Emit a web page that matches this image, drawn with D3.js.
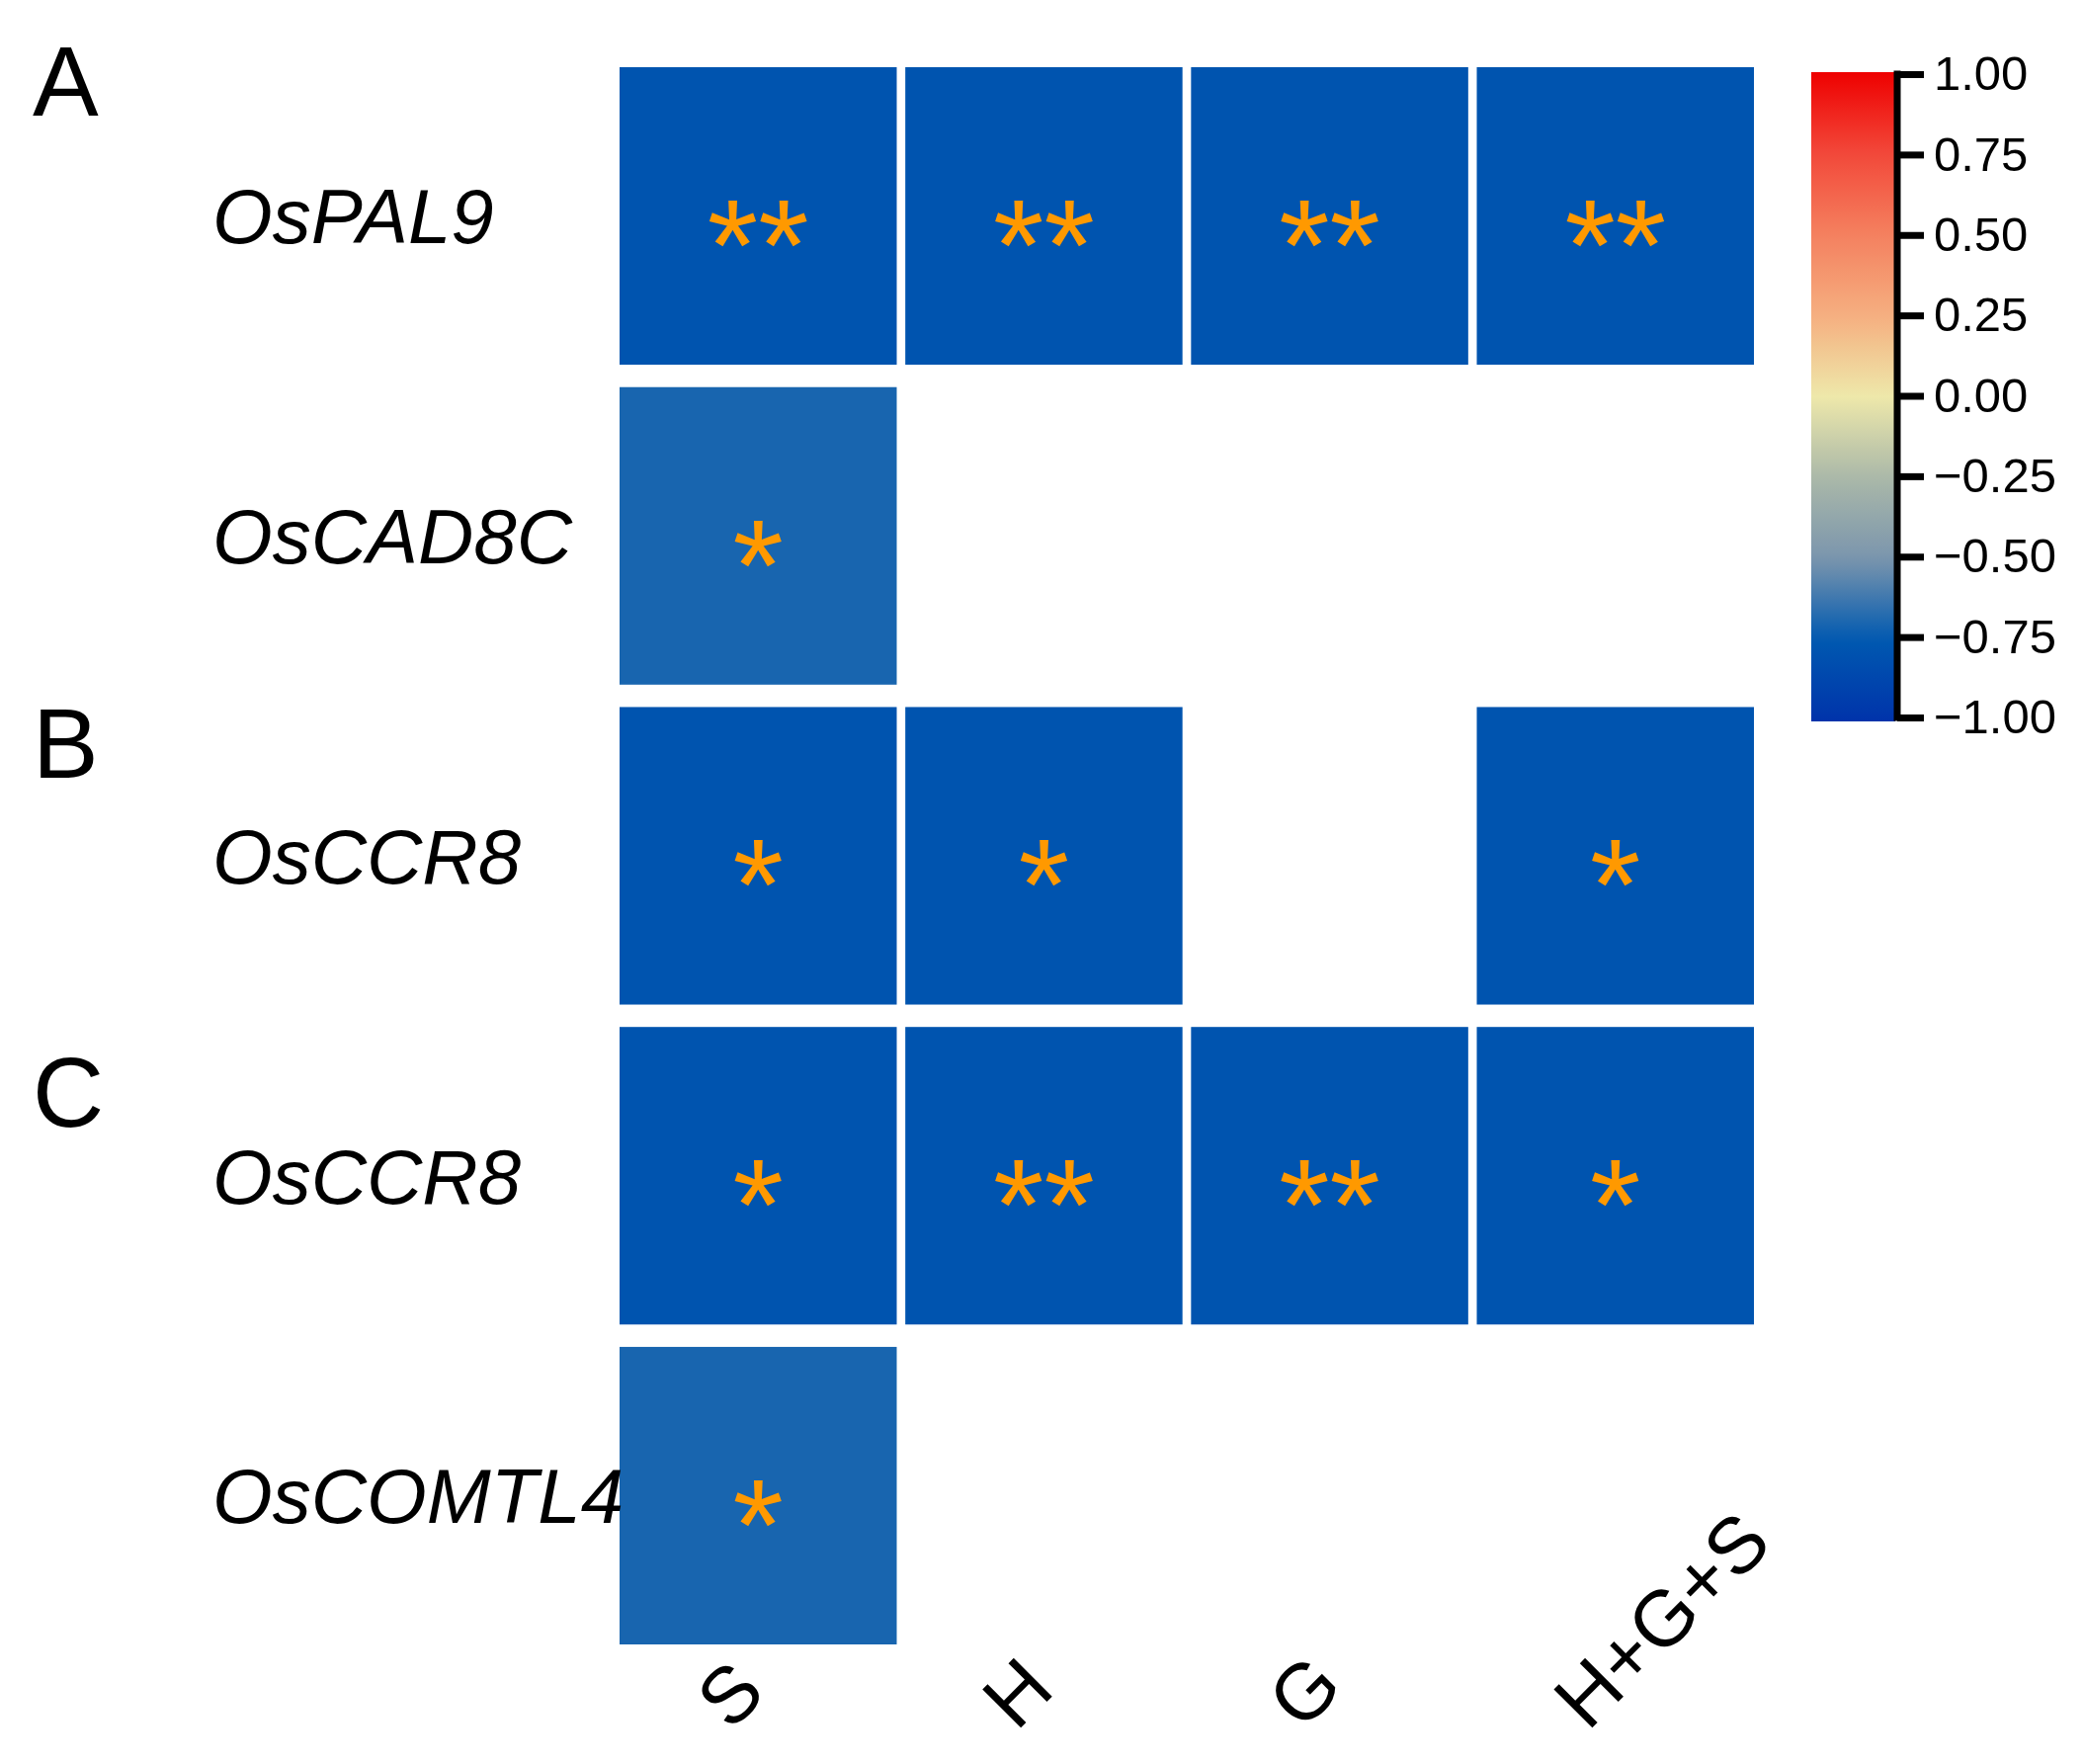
<!DOCTYPE html>
<html>
<head>
<meta charset="utf-8">
<script src="https://cdn.jsdelivr.net/npm/d3@7"></script>
<style>
  html, body { margin: 0; padding: 0; background: #ffffff; }
  svg { display: block; }
  text { font-family: "Liberation Sans", Arial, Helvetica, sans-serif; }
</style>
</head>
<body>
<div id="chart"></div>
<script>
// ---------- data ----------
const genes = ["OsPAL9", "OsCAD8C", "OsCCR8", "OsCCR8", "OsCOMTL4"];
const traits = ["S", "H", "G", "H+G+S"];

// correlation coefficients (null = not shown)
const rPAL9   = [-0.78, -0.78, -0.78, -0.78];
const rCAD8C  = [-0.70, null, null, null];
const rCCR8B  = [-0.78, -0.78, null, -0.78];
const rCCR8C  = [-0.78, -0.78, -0.78, -0.78];
const rCOMTL4 = [-0.70, null, null, null];

// significance marks
const sPAL9   = ["**", "**", "**", "**"];
const sCAD8C  = ["*", "", "", ""];
const sCCR8B  = ["*", "*", "", "*"];
const sCCR8C  = ["*", "**", "**", "*"];
const sCOMTL4 = ["*", "", "", ""];

const panelLetters = ["A", "B", "C"];

const colorDomain = [-1, -0.75, -0.5, -0.25, 0, 0.25, 0.5, 0.75, 1];
const colorRange  = ["#0033AA", "#0059B0", "#7A95AD", "#AAB8A9", "#EEE8AA",
                     "#F5AF80", "#F4805F", "#F2483A", "#EE0000"];
const legendTicks = [-1, -0.75, -0.5, -0.25, 0, 0.25, 0.5, 0.75, 1];

// ---------- build ----------
const rValues = [rPAL9, rCAD8C, rCCR8B, rCCR8C, rCOMTL4];
const sigMarks = [sPAL9, sCAD8C, sCCR8B, sCCR8C, sCOMTL4];
const cells = [];
rValues.forEach((row, i) => row.forEach((v, j) => {
  if (v !== null) cells.push({ row: i, col: traits[j], value: v, sig: sigMarks[i][j] });
}));

const W = 2108, H = 1785;
const svg = d3.select("#chart").append("svg")
  .attr("width", W).attr("height", H)
  .attr("viewBox", `0 0 ${W} ${H}`);
svg.append("rect").attr("width", W).attr("height", H).attr("fill", "#ffffff");

const x = d3.scaleBand().domain(traits).range([627, 1775]).paddingInner(0.03);
const y = d3.scaleBand().domain(d3.range(genes.length)).range([68, 1664]).paddingInner(0.07);
const color = d3.scaleLinear().domain(colorDomain).range(colorRange).interpolate(d3.interpolateRgb);

// cells
svg.append("g").selectAll("rect").data(cells).join("rect")
  .attr("x", d => x(d.col))
  .attr("y", d => y(d.row))
  .attr("width", x.bandwidth())
  .attr("height", y.bandwidth())
  .attr("fill", d => color(d.value));

// significance stars
const starSize = 132;
svg.append("g").selectAll("text").data(cells.filter(d => d.sig)).join("text")
  .attr("x", d => x(d.col) + x.bandwidth() / 2)
  .attr("y", d => y(d.row) + y.bandwidth() / 2 + starSize * 0.57)
  .attr("text-anchor", "middle")
  .attr("font-size", starSize)
  .attr("fill", "#FF9900")
  .text(d => d.sig);

// row labels
const labelSize = 78;
svg.append("g").selectAll("text").data(genes).join("text")
  .attr("x", 215)
  .attr("y", (d, i) => y(i) + y.bandwidth() / 2 + labelSize * 0.358)
  .attr("font-size", labelSize)
  .attr("font-style", "italic")
  .attr("fill", "#000")
  .text(d => d);

// column labels (rotated)
svg.append("g").selectAll("text").data(traits).join("text")
  .attr("transform", d => `translate(${x(d) + x.bandwidth() / 2 - 28},1753) rotate(-45)`)
  .attr("text-anchor", "start")
  .attr("font-size", 80)
  .attr("fill", "#000")
  .text(d => d);

// panel letters
const panelY = [117, 787, 1140];
svg.append("g").selectAll("text").data(panelLetters).join("text")
  .attr("x", 33)
  .attr("y", (d, i) => panelY[i])
  .attr("font-size", 100)
  .attr("fill", "#000")
  .text(d => d);

// ---------- color bar ----------
const ly = d3.scaleLinear().domain([-1, 1]).range([726, 75]);
const defs = svg.append("defs");
const grad = defs.append("linearGradient").attr("id", "cbar")
  .attr("x1", 0).attr("y1", 1).attr("x2", 0).attr("y2", 0);
d3.range(0, 1.0001, 0.02).forEach(t => {
  const v = -1 + 2 * t;
  grad.append("stop").attr("offset", t).attr("stop-color", color(v));
});
svg.append("rect")
  .attr("x", 1833).attr("y", ly(1) - 2)
  .attr("width", 85).attr("height", ly(-1) - ly(1) + 6)
  .attr("fill", "url(#cbar)");

const axis = d3.axisRight(ly)
  .tickValues(legendTicks)
  .tickFormat(d3.format(".2f"))
  .tickSize(27)
  .tickSizeOuter(0)
  .tickPadding(10);
const ag = svg.append("g").attr("transform", "translate(1920,0)").call(axis);
ag.select(".domain").attr("stroke", "#000").attr("stroke-width", 7)
  .attr("d", `M0,${ly(1) - 3.5}V${ly(-1) + 3.5}`);
ag.selectAll(".tick line").attr("stroke", "#000").attr("stroke-width", 7);
ag.selectAll(".tick text").attr("font-size", 49).attr("fill", "#000")
  .attr("font-family", "\"Liberation Sans\", Arial, sans-serif");
</script>
</body>
</html>
